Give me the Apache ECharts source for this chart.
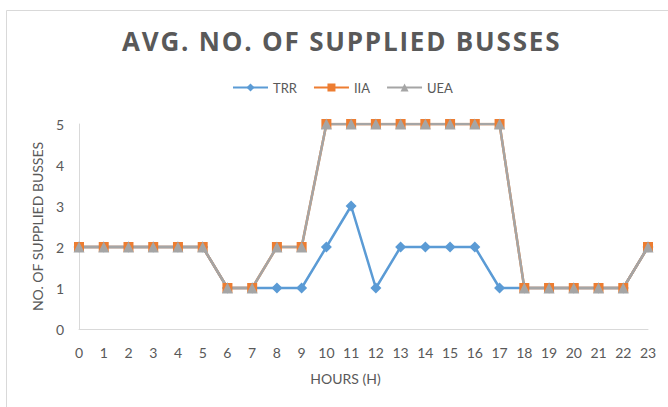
<!DOCTYPE html>
<html>
<head>
<meta charset="utf-8">
<script src="https://cdn.jsdelivr.net/npm/echarts@6/dist/echarts.min.js"></script>
<style>
  html, body { margin: 0; padding: 0; background: #ffffff; }
  #chart { width: 668px; height: 407px; }
</style>
</head>
<body>
<div id="chart"></div>
<script>
// Average number of supplied busses per hour, three strategies.
const hours = ['0', '1', '2', '3', '4', '5', '6', '7', '8', '9', '10', '11',
               '12', '13', '14', '15', '16', '17', '18', '19', '20', '21', '22', '23'];
const trr = [2, 2, 2, 2, 2, 2, 1, 1, 1, 1, 2, 3, 1, 2, 2, 2, 2, 1, 1, 1, 1, 1, 1, 2];
const iia = [2, 2, 2, 2, 2, 2, 1, 1, 2, 2, 5, 5, 5, 5, 5, 5, 5, 5, 1, 1, 1, 1, 1, 2];
const uea = [2, 2, 2, 2, 2, 2, 1, 1, 2, 2, 5, 5, 5, 5, 5, 5, 5, 5, 1, 1, 1, 1, 1, 2];

const TITLE = 'AVG. NO. OF SUPPLIED BUSSES';
const TEXT = '#595959';
const AXIS = '#D9D9D9';
const FONT = 'Lato, "Open Sans", sans-serif';

function lineSeries(name, data, color, symbol, size) {
    return {
        name: name,
        type: 'line',
        data: data,
        symbol: symbol,
        symbolSize: size,
        showAllSymbol: true,
        lineStyle: { color: color, width: 2.5 },
        itemStyle: { color: color },
        emphasis: { disabled: true }
    };
}

const chart = echarts.init(document.getElementById('chart'), null, { renderer: 'svg' });
chart.setOption({
    animation: false,
    backgroundColor: '#ffffff',
    title: {
        text: TITLE,
        left: 117,
        top: 23,
        textStyle: {
            fontFamily: '"Open Sans", sans-serif',
            fontSize: 26,
            fontWeight: 'bold',
            color: TEXT
        }
    },
    legend: {
        left: 227,
        top: 76,
        itemWidth: 35,
        itemHeight: 10,
        itemGap: 16,
        textStyle: { fontFamily: FONT, fontSize: 13, color: TEXT },
        data: ['TRR', 'IIA', 'UEA']
    },
    grid: {
        left: 79, right: 20, top: 124, bottom: 78,
        containLabel: false,
        outerBoundsMode: 'none'
    },
    xAxis: {
        type: 'category',
        data: hours,
        boundaryGap: false,
        name: 'HOURS (H)',
        nameLocation: 'middle',
        nameGap: 42,
        nameTextStyle: { fontFamily: FONT, fontSize: 14, color: TEXT, padding: [0, 36, 0, 0] },
        axisLine: { lineStyle: { color: AXIS, width: 1 } },
        axisTick: { show: false },
        axisLabel: { interval: 0, fontFamily: FONT, fontSize: 14, color: TEXT, margin: 16 },
        splitLine: { show: false }
    },
    yAxis: {
        type: 'value',
        min: 0,
        max: 5,
        interval: 1,
        name: 'NO. OF SUPPLIED BUSSES',
        nameLocation: 'middle',
        nameGap: 31,
        nameTextStyle: { fontFamily: FONT, fontSize: 14, color: TEXT },
        axisLine: { show: true, lineStyle: { color: AXIS, width: 1 } },
        axisTick: { show: false },
        axisLabel: { fontFamily: FONT, fontSize: 14, color: TEXT, margin: 15 },
        splitLine: { show: false }
    },
    graphic: [{
        type: 'rect',
        shape: { x: 6.5, y: 10.5, width: 700, height: 420 },
        style: { fill: 'none', stroke: AXIS, lineWidth: 1 },
        silent: true
    }],
    series: [
        lineSeries('TRR', trr, '#5B9BD5', 'diamond', 11),
        lineSeries('IIA', iia, '#ED7D31', 'rect', 10),
        lineSeries('UEA', uea, '#A5A5A5', 'triangle', 11)
    ]
});

// The original title is letter-spaced; ECharts has no option for it, so
// set it on the rendered SVG text node.
function spaceTitle() {
    document.querySelectorAll('#chart text').forEach(function (t) {
        if (t.textContent === TITLE) t.style.letterSpacing = '1.8px';
    });
}
spaceTitle();
chart.on('finished', spaceTitle);
</script>
</body>
</html>
